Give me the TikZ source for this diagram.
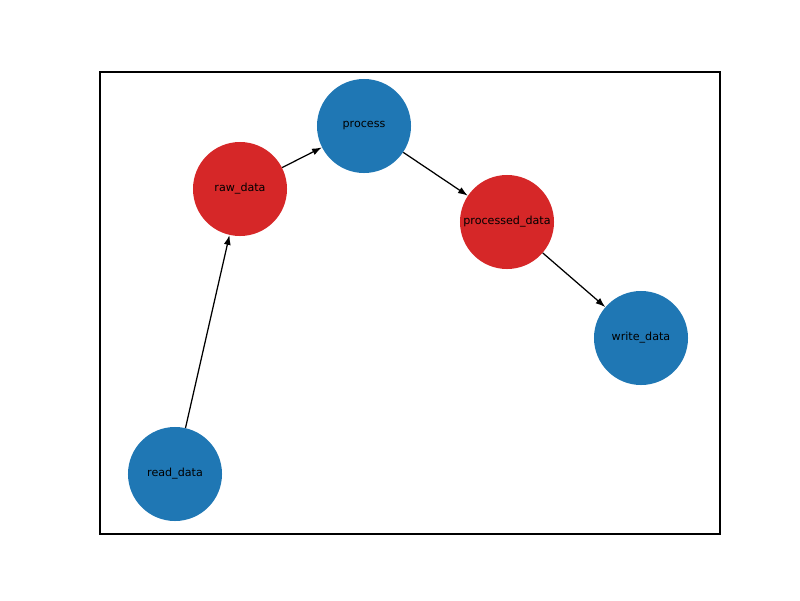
\documentclass[tikz,border=0pt]{standalone}
\usepackage{fontspec}
\setmainfont{DejaVu Sans}
\usepackage{xcolor}
\usetikzlibrary{arrows.meta}
\definecolor{nodeblue}{HTML}{1F77B4}
\definecolor{nodered}{HTML}{D62728}

\begin{document}
\begin{tikzpicture}[x=0.72pt,y=-0.72pt,
    task/.style={circle,fill=nodeblue,inner sep=0pt,minimum size=67.7pt,
      font=\fontsize{8}{10}\selectfont},
    dataset/.style={task,fill=nodered},
    flow/.style={-{Latex[length=7pt,width=5pt]},line width=0.9pt}]
    \useasboundingbox (0,0) rectangle (800,600);
    % Axes frame
    \draw[line width=0.8pt] (100,72) rectangle (720,534);
    % Tasks
    \node[task] (read) at (175,474) {read\_data};
    \node[task] (proc) at (364,126) {process};
    \node[task] (write) at (641,338) {write\_data};
    % Data
    \node[dataset] (raw) at (240,189) {raw\_data};
    \node[dataset] (procd) at (507,222) {processed\_data};
    % Edges
    \draw[flow] (read) -- (raw);
    \draw[flow] (raw) -- (proc);
    \draw[flow] (proc) -- (procd);
    \draw[flow] (procd) -- (write);
\end{tikzpicture}
\end{document}
